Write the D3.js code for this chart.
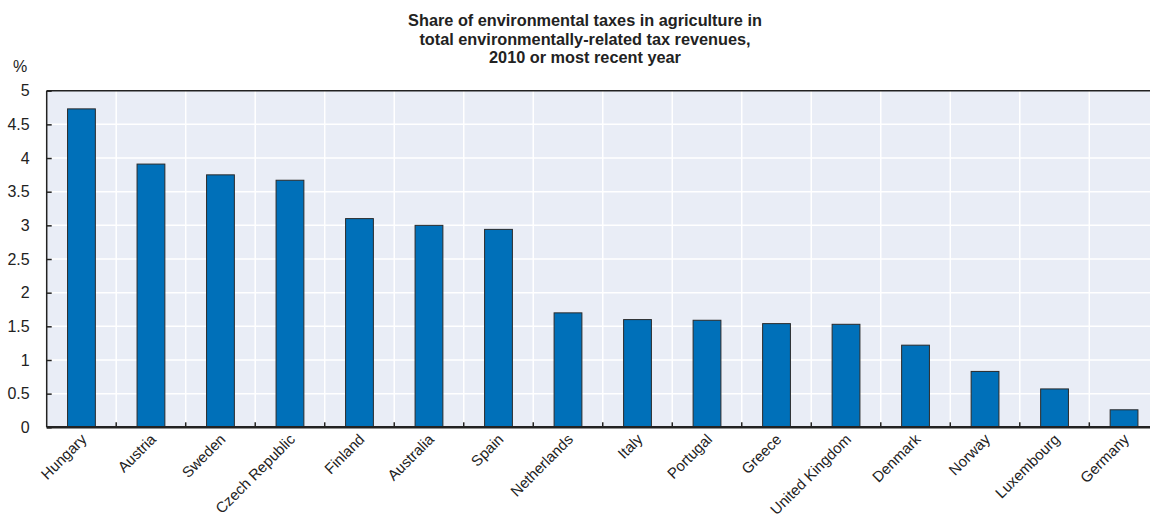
<!DOCTYPE html>
<html><head><meta charset="utf-8">
<script src="https://cdn.jsdelivr.net/npm/d3@7"></script>
<style>
html,body{margin:0;padding:0;background:#fff;}
svg{display:block;}
text{font-family:"Liberation Sans", Arial, sans-serif;fill:#222;}
</style></head>
<body>
<script>
const categories = ["Hungary","Austria","Sweden","Czech Republic","Finland","Australia","Spain","Netherlands","Italy","Portugal","Greece","United Kingdom","Denmark","Norway","Luxembourg","Germany"];
const values = [4.73,3.91,3.75,3.67,3.10,3.00,2.94,1.70,1.60,1.59,1.54,1.53,1.22,0.83,0.57,0.26];
const yTicks = [0,0.5,1,1.5,2,2.5,3,3.5,4,4.5,5];
const yTickLabels = ["0","0.5","1","1.5","2","2.5","3","3.5","4","4.5","5"];
const titleLines = ["Share of environmental taxes in agriculture in","total environmentally-related tax revenues,","2010 or most recent year"];
const unitLabel = "%";

const W = 1150, H = 518;
const mLeft = 46.7, mRight = 1158.8, mTop = 90.7, mBottom = 427.3;
const FONT = '"Liberation Sans", Arial, sans-serif';

const svg = d3.select("body").append("svg").attr("width", W).attr("height", H);

const x = d3.scaleBand().domain(categories).range([mLeft, mRight]).paddingInner(0).paddingOuter(0);
const y = d3.scaleLinear().domain([0,5]).range([mBottom, mTop]);

// background
svg.append("rect").attr("x", mLeft).attr("y", mTop).attr("width", mRight-mLeft).attr("height", mBottom-mTop).attr("fill", "#e9edf6");

// horizontal grid
svg.append("g").selectAll("line").data(yTicks.filter(d=>d>0 && d<5)).join("line")
  .attr("x1", mLeft).attr("x2", mRight).attr("y1", d=>y(d)).attr("y2", d=>y(d))
  .attr("stroke", "#fff").attr("stroke-width", 1.5);

// vertical grid at band boundaries
const bounds = categories.slice(1).map(c => x(c));
svg.append("g").selectAll("line").data(bounds).join("line")
  .attr("x1", d=>d).attr("x2", d=>d).attr("y1", mTop).attr("y2", mBottom)
  .attr("stroke", "#fff").attr("stroke-width", 1.5);

// bars
const bw = x.bandwidth()*0.4;
svg.append("g").selectAll("rect").data(values).join("rect")
  .attr("x", (d,i)=> x(categories[i]) + x.bandwidth()/2 - bw/2)
  .attr("width", bw)
  .attr("y", d=>y(d))
  .attr("height", d=> y(0)-y(d))
  .attr("fill", "#0070b9").attr("stroke", "#2a2a2a").attr("stroke-width", 1);

// top border and left axis
svg.append("line").attr("x1", mLeft).attr("x2", mRight).attr("y1", mTop).attr("y2", mTop).attr("stroke", "#222").attr("stroke-width", 1.5);
svg.append("line").attr("x1", mLeft).attr("x2", mLeft).attr("y1", mTop).attr("y2", mBottom).attr("stroke", "#222").attr("stroke-width", 1.5);

// y axis ticks + labels
const yAxis = d3.axisLeft(y).tickValues(yTicks).tickFormat((d,i)=>yTickLabels[i]).tickSizeInner(-5).tickSizeOuter(0).tickPadding(17);
const gy = svg.append("g").attr("transform", `translate(${mLeft},0)`).call(yAxis);
gy.select(".domain").remove();
gy.selectAll(".tick line").attr("stroke", "#222").attr("stroke-width", 1.5);
gy.selectAll(".tick text").attr("font-size", 16).attr("fill", "#222").style("font-family", FONT);

// x axis
const xAxis = d3.axisBottom(x).tickSize(0).tickPadding(0);
const gx = svg.append("g").attr("transform", `translate(0,${mBottom})`).call(xAxis);
gx.select(".domain").remove();
gx.selectAll(".tick text")
  .attr("font-size", 15).attr("fill", "#222")
  .style("font-family", FONT)
  .attr("text-anchor", "end")
  .attr("dy", null).attr("y", 0)
  .attr("transform", "translate(6,13) rotate(-45)");
svg.append("g").selectAll("line").data(bounds).join("line")
  .attr("x1", d=>d).attr("x2", d=>d).attr("y1", mBottom).attr("y2", mBottom-5)
  .attr("stroke", "#222").attr("stroke-width", 1.5);
svg.append("line").attr("x1", mLeft).attr("x2", mRight).attr("y1", mBottom).attr("y2", mBottom).attr("stroke", "#222").attr("stroke-width", 2.5);

// title
svg.append("g").selectAll("text").data(titleLines).join("text")
  .attr("x", 585).attr("y", (d,i)=> 26 + i*18.5)
  .attr("text-anchor", "middle").attr("font-size", 16.3).attr("font-weight", "bold")
  .style("font-family", FONT)
  .text(d=>d);

svg.append("text").attr("x", 20).attr("y", 72).attr("text-anchor", "middle").attr("font-size", 16).style("font-family", FONT).text(unitLabel);
</script>
</body></html>
